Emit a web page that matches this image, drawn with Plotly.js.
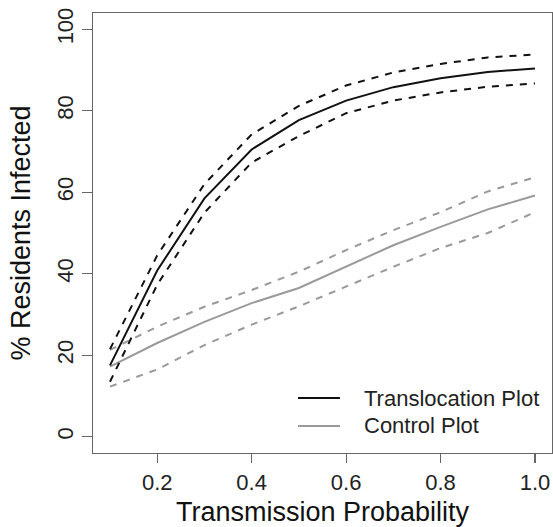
<!DOCTYPE html>
<html>
<head>
<meta charset="utf-8">
<script src="https://cdn.plot.ly/plotly-3.0.1.min.js"></script>
<style>html,body{margin:0;padding:0;background:#fff;}#chart{width:553px;height:527px;}</style>
</head>
<body>
<div id="chart"></div>
<script>
// Transmission probability values
const transmission = [0.1, 0.2, 0.3, 0.4, 0.5, 0.6, 0.7, 0.8, 0.9, 1.0];
// Translocation plot (% residents infected) with bounds
const translocationMean  = [17.5, 40.8, 58.5, 70.5, 77.7, 82.5, 85.8, 88.0, 89.5, 90.4];
const translocationUpper = [21.5, 44.5, 62.0, 74.2, 81.2, 86.2, 89.4, 91.5, 93.1, 93.8];
const translocationLower = [13.5, 37.3, 55.0, 67.3, 73.8, 79.4, 82.5, 84.5, 85.9, 86.7];
// Control plot
const controlMean  = [17.2, 23.0, 28.2, 32.8, 36.5, 41.7, 47.0, 51.5, 55.8, 59.2];
const controlUpper = [21.3, 27.0, 31.9, 36.0, 40.5, 45.8, 50.7, 55.1, 60.2, 63.7];
const controlLower = [12.3, 16.5, 22.5, 27.5, 32.0, 36.8, 41.7, 46.3, 50.0, 55.1];
// Tick labels
const xTickVals = [0.2, 0.4, 0.6, 0.8, 1.0];
const xTickText = ['0.2', '0.4', '0.6', '0.8', '1.0'];
const yTickVals = [0, 20, 40, 60, 80, 100];
const yTickText = ['0', '20', '40', '60', '80', '100'];
const legendLabels = ['Translocation Plot', 'Control Plot'];

const BLACK = '#111111';
const GREY = '#9a9a9a';
const FONT = 'Liberation Sans, Arial, Helvetica, sans-serif';

function tr(y, color, dash, name) {
  return {
    x: transmission, y: y, type: 'scatter', mode: 'lines', name: name,
    line: {color: color, width: 2, dash: dash}, showlegend: false, hoverinfo: 'x+y'
  };
}

const data = [
  tr(controlUpper, GREY, '7px,7px', 'Control upper'),
  tr(controlLower, GREY, '7px,7px', 'Control lower'),
  tr(controlMean, GREY, 'solid', legendLabels[1]),
  tr(translocationUpper, BLACK, '7px,7px', 'Translocation upper'),
  tr(translocationLower, BLACK, '7px,7px', 'Translocation lower'),
  tr(translocationMean, BLACK, 'solid', legendLabels[0])
];

const layout = {
  width: 553, height: 527,
  margin: {l: 93, r: 1, t: 13, b: 74, pad: 0},
  paper_bgcolor: '#ffffff', plot_bgcolor: '#ffffff',
  font: {family: FONT, color: '#222'},
  xaxis: {
    range: [0.064, 1.036], tickvals: xTickVals, ticktext: xTickText,
    ticks: 'outside', ticklen: 9, tickwidth: 1.2, tickcolor: '#666',
    showline: true, mirror: true, linecolor: '#666', linewidth: 1.3,
    showgrid: false, zeroline: false,
    tickfont: {size: 22, color: '#222', family: FONT},
    title: {text: 'Transmission Probability', font: {size: 27, color: '#111', family: FONT}, standoff: 14},
    automargin: false
  },
  yaxis: {
    range: [-4, 104], tickvals: yTickVals, ticktext: yTickText, tickangle: -90,
    ticks: 'outside', ticklen: 10, tickwidth: 1.2, tickcolor: '#666',
    showline: true, mirror: true, linecolor: '#666', linewidth: 1.3,
    showgrid: false, zeroline: false,
    tickfont: {size: 22, color: '#222', family: FONT},
    title: {text: '% Residents Infected', font: {size: 27, color: '#111', family: FONT}, standoff: 14},
    automargin: false
  },
  shapes: [
    {type: 'line', xref: 'paper', yref: 'paper', x0: 0.4466, x1: 0.538, y0: 0.125, y1: 0.125,
     line: {color: BLACK, width: 2}},
    {type: 'line', xref: 'paper', yref: 'paper', x0: 0.4466, x1: 0.538, y0: 0.0614, y1: 0.0614,
     line: {color: GREY, width: 2}}
  ],
  annotations: [
    {xref: 'paper', yref: 'paper', x: 0.586, y: 0.125, xanchor: 'left', yanchor: 'middle',
     text: legendLabels[0], showarrow: false, font: {size: 22, color: '#222', family: FONT}},
    {xref: 'paper', yref: 'paper', x: 0.586, y: 0.0614, xanchor: 'left', yanchor: 'middle',
     text: legendLabels[1], showarrow: false, font: {size: 22, color: '#222', family: FONT}}
  ]
};

Plotly.newPlot('chart', data, layout, {displayModeBar: false, staticPlot: true});
</script>
</body>
</html>
